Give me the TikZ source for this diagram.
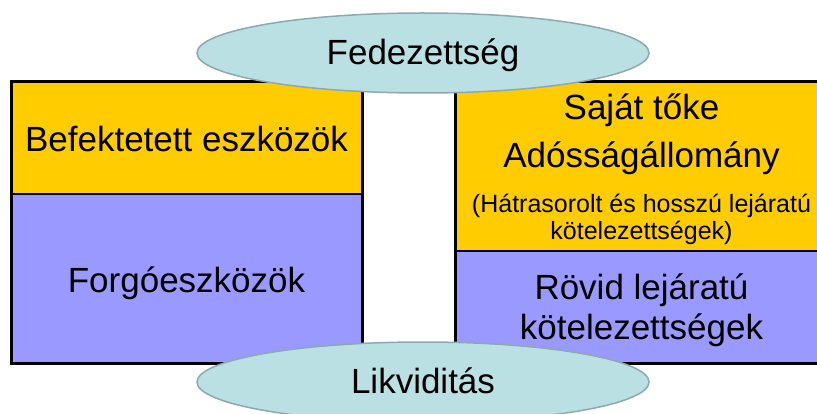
\documentclass[tikz,border=0pt]{standalone}
\usepackage{fontspec}
\setmainfont{Liberation Sans}
\usetikzlibrary{shapes.geometric}
\definecolor{fixgold}{HTML}{FFCC00}
\definecolor{curviolet}{HTML}{9999FF}
\definecolor{ovalfill}{HTML}{BBE0E3}
\definecolor{ovaledge}{HTML}{8DA9AE}
\tikzset{
  big/.style={font=\fontsize{35}{40}\selectfont, anchor=base, inner sep=0pt},
  small/.style={font=\fontsize{25}{29}\selectfont, anchor=base, inner sep=0pt},
  frame/.style={draw=black, line width=3pt},
  divider/.style={draw=black, line width=1.2pt},
  oval/.style={ellipse, fill=ovalfill, draw=ovaledge, line width=1.5pt,
    minimum width=452pt, minimum height=80pt, inner sep=0pt},
}
\begin{document}
\begin{tikzpicture}[x=1pt, y=-1pt]
  \useasboundingbox (0,0) rectangle (817,414);
  \clip (0,0) rectangle (817,414);

  % assets column
  \fill[fixgold]   (11,82) rectangle (362,194);
  \fill[curviolet] (11,194) rectangle (362,363);
  \draw[divider] (11,194) -- (362,194);
  \draw[frame] (11,82) rectangle (362,363);

  % liabilities column (runs past the right edge)
  \fill[fixgold]   (455,82) rectangle (828,251);
  \fill[curviolet] (455,251) rectangle (828,363);
  \draw[divider] (455,251) -- (828,251);
  \draw[frame] (455,82) rectangle (828,363);

  % labels
  \node[big] (fixed) at (186.5,152) {Befektetett eszközök};
  \node[big] (current) at (186.5,292) {Forgóeszközök};
  \node[big] (equity) at (641.5,120) {Saját tőke};
  \node[big] (debt) at (641.5,168) {Adósságállomány};
  \node[small] (sub1) at (641.5,213) {(Hátrasorolt és hosszú lejáratú};
  \node[small] (sub2) at (641.5,240) {kötelezettségek)};
  \node[big] (short1) at (641.5,300) {Rövid lejáratú};
  \node[big] (short2) at (641.5,339) {kötelezettségek};

  % ovals
  \node[oval] (coverage) at (423,53) {};
  \node[big] (coveragetext) at (423,65) {Fedezettség};
  \node[oval] (liquidity) at (423,382) {};
  \node[big] (liquiditytext) at (423,393) {Likviditás};
\end{tikzpicture}
\end{document}
